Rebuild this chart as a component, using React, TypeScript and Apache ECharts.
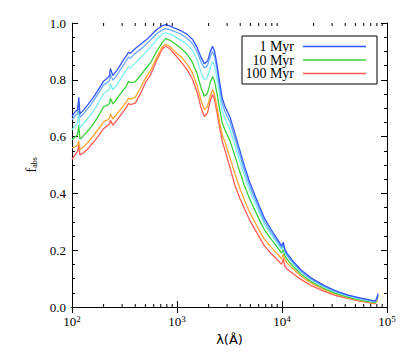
import React, { useEffect, useRef } from "react";
import * as echarts from "echarts";

const wavelengths = [100, 108, 113, 116, 119, 125, 140, 160, 180, 200, 220, 228, 232, 245, 270, 300, 330, 345, 360, 400, 450, 500, 560, 640, 720, 780, 850, 950, 1100, 1250, 1400, 1550, 1700, 1820, 1950, 2080, 2180, 2280, 2400, 2550, 2700, 2850, 3200, 3550, 3950, 4400, 4900, 5500, 6100, 6800, 7900, 9000, 9900, 10300, 10600, 11200, 12500, 15000, 19000, 25000, 32000, 42000, 55000, 65000, 72000, 77000, 80000, 82000];

const blue = [0.671, 0.690, 0.693, 0.738, 0.680, 0.688, 0.710, 0.738, 0.768, 0.795, 0.808, 0.815, 0.840, 0.815, 0.835, 0.862, 0.885, 0.897, 0.893, 0.910, 0.925, 0.938, 0.955, 0.977, 0.990, 0.994, 0.990, 0.982, 0.972, 0.960, 0.943, 0.915, 0.878, 0.857, 0.865, 0.900, 0.918, 0.900, 0.855, 0.790, 0.735, 0.708, 0.668, 0.613, 0.554, 0.495, 0.442, 0.395, 0.354, 0.313, 0.272, 0.240, 0.215, 0.228, 0.205, 0.188, 0.165, 0.132, 0.102, 0.076, 0.058, 0.043, 0.032, 0.027, 0.023, 0.021, 0.030, 0.047];
const lightBlue = [0.660, 0.676, 0.680, 0.725, 0.668, 0.675, 0.697, 0.725, 0.755, 0.782, 0.792, 0.798, 0.820, 0.798, 0.818, 0.845, 0.868, 0.880, 0.876, 0.893, 0.908, 0.922, 0.940, 0.962, 0.975, 0.980, 0.977, 0.970, 0.960, 0.946, 0.928, 0.900, 0.862, 0.842, 0.850, 0.883, 0.900, 0.883, 0.838, 0.772, 0.716, 0.690, 0.650, 0.595, 0.537, 0.479, 0.428, 0.382, 0.342, 0.302, 0.263, 0.232, 0.209, 0.221, 0.199, 0.183, 0.160, 0.128, 0.098, 0.073, 0.055, 0.041, 0.030, 0.025, 0.021, 0.019, 0.028, 0.044];
const cyan = [0.624, 0.640, 0.645, 0.690, 0.632, 0.640, 0.662, 0.690, 0.722, 0.752, 0.762, 0.768, 0.786, 0.765, 0.785, 0.812, 0.834, 0.846, 0.842, 0.858, 0.878, 0.895, 0.915, 0.942, 0.960, 0.965, 0.962, 0.953, 0.938, 0.924, 0.905, 0.870, 0.825, 0.800, 0.808, 0.845, 0.865, 0.848, 0.805, 0.742, 0.690, 0.665, 0.625, 0.572, 0.515, 0.460, 0.412, 0.368, 0.330, 0.292, 0.255, 0.225, 0.203, 0.215, 0.194, 0.178, 0.156, 0.124, 0.095, 0.071, 0.053, 0.039, 0.028, 0.023, 0.019, 0.018, 0.026, 0.042];
const green = [0.589, 0.600, 0.606, 0.640, 0.592, 0.598, 0.618, 0.645, 0.675, 0.705, 0.712, 0.717, 0.735, 0.715, 0.735, 0.758, 0.778, 0.795, 0.790, 0.793, 0.815, 0.838, 0.860, 0.900, 0.930, 0.945, 0.940, 0.928, 0.910, 0.890, 0.862, 0.822, 0.770, 0.742, 0.752, 0.792, 0.812, 0.795, 0.752, 0.695, 0.648, 0.625, 0.585, 0.533, 0.478, 0.426, 0.382, 0.342, 0.306, 0.272, 0.238, 0.212, 0.190, 0.202, 0.182, 0.167, 0.147, 0.117, 0.089, 0.066, 0.049, 0.036, 0.025, 0.020, 0.017, 0.016, 0.024, 0.040];
const orange = [0.560, 0.565, 0.570, 0.585, 0.555, 0.560, 0.578, 0.603, 0.628, 0.652, 0.660, 0.665, 0.680, 0.662, 0.682, 0.703, 0.722, 0.735, 0.732, 0.738, 0.772, 0.805, 0.833, 0.878, 0.915, 0.925, 0.918, 0.900, 0.880, 0.855, 0.825, 0.780, 0.725, 0.695, 0.706, 0.746, 0.765, 0.748, 0.705, 0.650, 0.605, 0.583, 0.525, 0.470, 0.420, 0.375, 0.335, 0.300, 0.268, 0.238, 0.210, 0.188, 0.170, 0.187, 0.168, 0.155, 0.137, 0.110, 0.084, 0.062, 0.046, 0.033, 0.023, 0.018, 0.015, 0.014, 0.022, 0.037];
const red = [0.520, 0.538, 0.548, 0.570, 0.535, 0.540, 0.555, 0.580, 0.604, 0.628, 0.640, 0.645, 0.658, 0.640, 0.660, 0.683, 0.703, 0.717, 0.713, 0.718, 0.752, 0.790, 0.818, 0.868, 0.908, 0.918, 0.910, 0.890, 0.862, 0.835, 0.803, 0.758, 0.700, 0.671, 0.683, 0.728, 0.748, 0.730, 0.685, 0.630, 0.582, 0.555, 0.490, 0.430, 0.385, 0.345, 0.307, 0.274, 0.245, 0.215, 0.188, 0.167, 0.150, 0.170, 0.145, 0.133, 0.120, 0.098, 0.075, 0.056, 0.041, 0.030, 0.021, 0.016, 0.013, 0.012, 0.020, 0.035];

const seriesNames = ["1 Myr", "2 Myr", "5 Myr", "10 Myr", "50 Myr", "100 Myr"];
const seriesValues = [blue, lightBlue, cyan, green, orange, red];
const seriesColors = ["#3355ff", "#6aaaff", "#7ef0f0", "#3ad13a", "#ffa533", "#ff5a55"];

const legendNames = ["1 Myr", "10 Myr", "100 Myr"];
const legendColors = ["#3355ff", "#3ad13a", "#ff5a55"];

const minorXTicks = [200, 300, 400, 500, 600, 700, 800, 900, 2000, 3000, 4000, 5000, 6000, 7000, 8000, 9000, 20000, 30000, 40000, 50000, 60000, 70000, 80000, 90000];

const SERIF = "Liberation Serif";

export default function App() {
  const ref = useRef<HTMLDivElement>(null);
  useEffect(() => {
    if (!ref.current) return;
    const chart = echarts.init(ref.current, null, { renderer: "svg" });
    const axisLine = { lineStyle: { color: "#000", width: 1 } };
    const xCommon = {
      type: "log",
      logBase: 10,
      min: 100,
      max: 100000,
      splitLine: { show: false },
      axisLine,
      axisTick: { inside: true, length: 6, lineStyle: { color: "#000" } },
    };
    const yCommon = {
      type: "value",
      min: 0,
      max: 1.0,
      interval: 0.2,
      splitLine: { show: false },
      axisLine: { show: true, ...axisLine },
      axisTick: { show: true, inside: true, length: 6, lineStyle: { color: "#000" } },
      minorTick: { show: true, splitNumber: 4, length: 3, lineStyle: { color: "#000" } },
    };
    const lineSeries = seriesValues
      .map((vals, i) => ({
        name: seriesNames[i],
        type: "line",
        showSymbol: false,
        symbol: "none",
        z: 10 - i,
        lineStyle: { color: seriesColors[i], width: 1.3 },
        data: wavelengths.map((w, j) => [w, vals[j]]),
      }))
      .reverse();
    const option = {
      animation: false,
      backgroundColor: "#fff",
      grid: { left: 72, right: 22, top: 23, bottom: 47, containLabel: false },
      xAxis: [
        {
          ...xCommon,
          position: "bottom",
          name: "λ(Å)",
          nameLocation: "middle",
          nameGap: 22,
          nameTextStyle: { fontFamily: "DejaVu Sans", fontSize: 13, color: "#000" },
          axisLabel: {
            margin: 7,
            color: "#000",
            fontFamily: SERIF,
            fontSize: 13,
            formatter: (v: number) => `10{sup|${Math.round(Math.log10(v))}}`,
            rich: {
              sup: { fontFamily: SERIF, fontSize: 9, color: "#000", verticalAlign: "top", padding: [0, 0, 6, 0] },
            },
          },
        },
        { ...xCommon, position: "top", axisLabel: { show: false } },
      ],
      yAxis: [
        {
          ...yCommon,
          position: "left",
          name: "f{sub|abs}",
          nameLocation: "middle",
          nameRotate: 90,
          nameGap: 30,
          nameTextStyle: {
            fontFamily: SERIF,
            fontSize: 15,
            color: "#000",
            rich: { sub: { fontFamily: SERIF, fontSize: 8, color: "#000", verticalAlign: "bottom", padding: [6, 0, 0, 0] } },
          },
          axisLabel: {
            color: "#000",
            fontFamily: SERIF,
            fontSize: 13,
            margin: 6,
            formatter: (v: number) => v.toFixed(1),
          },
        },
        { ...yCommon, position: "right", axisLabel: { show: false } },
      ],
      series: [
        ...lineSeries,
        {
          type: "custom",
          coordinateSystem: "cartesian2d",
          silent: true,
          z: 20,
          data: minorXTicks.map((w) => [w, 0]),
          renderItem: (params: any, api: any) => {
            const w = api.value(0);
            const b = api.coord([w, 0]);
            const t = api.coord([w, 1]);
            const st = { stroke: "#000", lineWidth: 1 };
            return {
              type: "group",
              children: [
                { type: "line", shape: { x1: b[0], y1: b[1], x2: b[0], y2: b[1] - 3 }, style: st },
                { type: "line", shape: { x1: t[0], y1: t[1], x2: t[0], y2: t[1] + 3 }, style: st },
              ],
            };
          },
        },
      ],
      graphic: [
        {
          type: "rect",
          shape: { x: 242, y: 36, width: 135, height: 48 },
          style: { fill: "#fff", stroke: "#000", lineWidth: 1 },
          z: 100,
        },
        ...legendNames.flatMap((n, i) => [
          {
            type: "text",
            x: 294,
            y: 46.5 + i * 13.5,
            z: 101,
            style: {
              text: n,
              fill: "#000",
              font: `14px "${SERIF}"`,
              textAlign: "right",
              textVerticalAlign: "middle",
            },
          },
          {
            type: "line",
            z: 101,
            shape: { x1: 303, y1: 46.5 + i * 13.5, x2: 366, y2: 46.5 + i * 13.5 },
            style: { stroke: legendColors[i], lineWidth: 1.5 },
          },
        ]),
      ],
    };
    chart.setOption(option as any);
    return () => chart.dispose();
  }, []);
  return <div ref={ref} style={{ position: "fixed", left: 0, top: 0, width: 409, height: 354 }} />;
}
